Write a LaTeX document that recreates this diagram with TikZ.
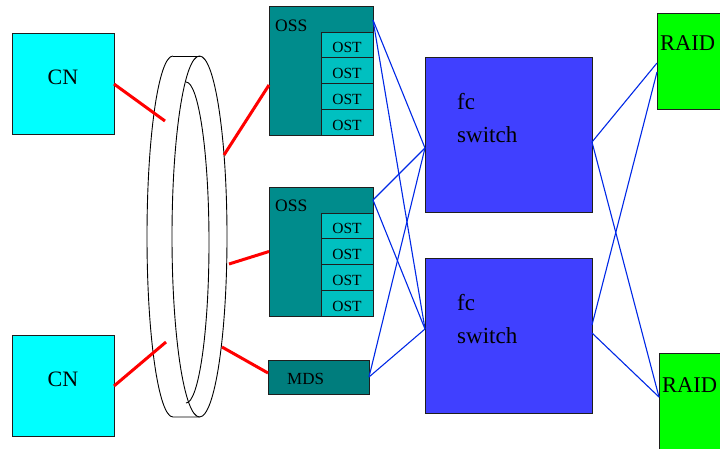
\documentclass[tikz,border=0pt]{standalone}
\usepackage{fontspec}
\setmainfont{Liberation Serif}
\usetikzlibrary{positioning}
\definecolor{cnfill}{RGB}{0,255,255}
\definecolor{ossfill}{RGB}{0,140,140}
\definecolor{ostfill}{RGB}{0,192,192}
\definecolor{mdsfill}{RGB}{0,125,125}
\definecolor{swfill}{RGB}{64,64,255}
\definecolor{raidfill}{RGB}{0,255,0}
\definecolor{edge}{RGB}{30,30,30}
\definecolor{fibre}{RGB}{0,40,230}

\begin{document}
\begin{tikzpicture}[
  x=1pt, y=-1pt,
  box/.style={rectangle, draw=edge, line width=1pt, anchor=north west,
              inner sep=0pt, outer sep=0pt},
  cnbox/.style={box, fill=cnfill, minimum width=102pt, minimum height=101pt,
                font=\fontsize{22}{26}\selectfont, text depth=14pt},
  ossbox/.style={box, fill=ossfill, minimum width=104pt, minimum height=129pt},
  ostbox/.style={box, fill=ostfill, minimum width=52pt, minimum height=25.75pt,
                 font=\fontsize{15.5}{18}\selectfont, text height=16pt},
  mdsbox/.style={box, fill=mdsfill, minimum width=101pt, minimum height=34pt},
  swbox/.style={box, fill=swfill, minimum width=167pt, minimum height=155pt},
  raidbox/.style={box, fill=raidfill, minimum width=80pt, minimum height=96pt},
  lbl/.style={inner sep=0pt, anchor=base west},
  link/.style={draw=red, line width=3pt},
  fib/.style={draw=fibre, line width=1.1pt},
  ringline/.style={draw=black, line width=0.9pt},
]
  \useasboundingbox (0,0) rectangle (720,448);
  \clip (0,0) rectangle (720,448);

  % compute nodes
  \node[cnbox] (cn1) at (12,33.5) {CN};
  \node[cnbox] (cn2) at (12,335.5) {CN};

  % the ring
  \draw[ringline] (173,56) arc[start angle=270, end angle=90, x radius=26, y radius=180.5]
    -- (199.5,417);
  \draw[ringline] (173,56) -- (199.5,56);
  \draw[ringline] (199.5,236.5) ellipse[x radius=27.5, y radius=180.5];
  \draw[ringline] (186,82) arc[start angle=-90, end angle=90, x radius=23, y radius=160.5];
  \coordinate (r1) at (165,121);
  \coordinate (r2) at (166,342);
  \coordinate (r3) at (224,155);
  \coordinate (r4) at (229,264);
  \coordinate (r5) at (222,347);

  % servers
  \node[ossbox] (oss1) at (269,6) {};
  \node[lbl, font=\fontsize{17.5}{20}\selectfont] (oss1t) at (275,31) {OSS};
  \foreach \i in {0,...,3}
    \node[ostbox] (osta\i) at (321,{32+25.75*\i}) {OST};
  \node[ossbox] (oss2) at (269,187) {};
  \node[lbl, font=\fontsize{17.5}{20}\selectfont] (oss2t) at (275,211) {OSS};
  \foreach \i in {0,...,3}
    \node[ostbox] (ostb\i) at (321,{213+25.75*\i}) {OST};
  \node[mdsbox] (mds) at (268,360) {};
  \node[lbl, font=\fontsize{17}{20}\selectfont] (mdst) at (287,384) {MDS};

  % switches
  \node[swbox] (sw1) at (425,57) {};
  \node[lbl, font=\fontsize{23}{26}\selectfont] (sw1a) at (457,109) {fc};
  \node[lbl, font=\fontsize{23}{26}\selectfont] (sw1b) at (457,142) {switch};
  \node[swbox] (sw2) at (425,258) {};
  \node[lbl, font=\fontsize{23}{26}\selectfont] (sw2a) at (457,310) {fc};
  \node[lbl, font=\fontsize{23}{26}\selectfont] (sw2b) at (457,343) {switch};

  % storage
  \node[raidbox] (raid1) at (657,13) {};
  \node[lbl, font=\fontsize{22.5}{26}\selectfont] (raid1t) at (660,50) {RAID};
  \node[raidbox, minimum height=120pt] (raid2) at (659,353) {};
  \node[lbl, font=\fontsize{22.5}{26}\selectfont] (raid2t) at (662,392) {RAID};

  % ring links
  \draw[link] (cn1.east) -- (r1);
  \draw[link] (cn2.east) -- (r2);
  \draw[link] (r3) -- ([yshift=-14.5pt]oss1.west);
  \draw[link] (r4) -- (oss2.west);
  \draw[link] (r5) -- ([yshift=4pt]mds.west);

  % fibre channel
  \coordinate (sw1in) at ([yshift=-13.5pt]sw1.west);
  \coordinate (sw2in) at ([yshift=6.5pt]sw2.west);
  \foreach \s/\d in {oss1/14, oss2/13} {
    \draw[fib] ([yshift=-\d pt]\s.north east) -- (sw1in);
    \draw[fib] ([yshift=-\d pt]\s.north east) -- (sw2in);
  }
  \draw[fib] (mds.east) -- (sw1in);
  \draw[fib] (mds.east) -- (sw2in);
  \draw[fib] ([yshift=-7.5pt]sw1.east) -- ([yshift=-50pt]raid1.north west);
  \draw[fib] ([yshift=-7.5pt]sw1.east) -- ([yshift=-44pt]raid2.north west);
  \draw[fib] ([yshift=10.5pt]sw2.east) -- ([yshift=-59pt]raid1.north west);
  \draw[fib] ([yshift=2.5pt]sw2.east) -- ([yshift=-44pt]raid2.north west);
\end{tikzpicture}
\end{document}
